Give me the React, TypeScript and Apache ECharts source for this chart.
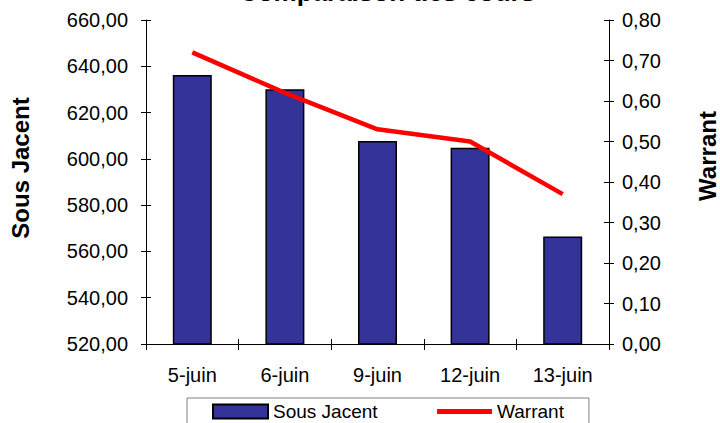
import React, { useEffect, useRef } from "react";
import * as echarts from "echarts";

const categories = ["5-juin", "6-juin", "9-juin", "12-juin", "13-juin"];
const sousJacent = [636.2, 630.1, 607.7, 604.8, 566.4];
const warrant = [0.72, 0.62, 0.53, 0.5, 0.37];

const FONT = "'Liberation Sans', Arial, sans-serif";
const fmt = (v: number) => v.toFixed(2).replace(".", ",");

export default function App() {
  const ref = useRef<HTMLDivElement>(null);
  useEffect(() => {
    if (!ref.current) return;
    const chart = echarts.init(ref.current, undefined, { renderer: "svg" });
    const grid = { left: 146, right: 111, top: 20, bottom: 79 };
    const leftBase = {
      type: "value" as const,
      min: 520,
      max: 660,
      interval: 20,
      position: "left" as const,
      splitLine: { show: false },
    };
    const rightBase = {
      type: "value" as const,
      min: 0,
      max: 0.8,
      interval: 0.1,
      position: "right" as const,
      splitLine: { show: false },
    };
    chart.setOption({
      animation: false,
      backgroundColor: "#ffffff",
      grid,
      xAxis: [
        {
          type: "category",
          data: categories,
          axisLine: { lineStyle: { color: "#000", width: 1 } },
          axisTick: { show: true, inside: false, length: 6, lineStyle: { color: "#000" } },
          axisLabel: { color: "#000", fontSize: 20, fontFamily: FONT, margin: 21 },
        },
        {
          type: "category",
          data: categories,
          position: "bottom",
          axisLine: { show: false },
          axisTick: { show: true, inside: true, length: 5, lineStyle: { color: "#000" } },
          axisLabel: { show: false },
        },
      ],
      yAxis: [
        {
          ...leftBase,
          axisLine: { show: true, lineStyle: { color: "#000", width: 1 } },
          axisTick: { show: true, inside: false, length: 5, lineStyle: { color: "#000" } },
          axisLabel: { color: "#000", fontSize: 20, fontFamily: FONT, margin: 18, formatter: fmt },
        },
        {
          ...rightBase,
          axisLine: { show: true, lineStyle: { color: "#000", width: 1 } },
          axisTick: { show: true, inside: false, length: 5, lineStyle: { color: "#000" } },
          axisLabel: { color: "#000", fontSize: 20, fontFamily: FONT, margin: 13, formatter: fmt },
        },
        {
          ...leftBase,
          axisLine: { show: false },
          axisTick: { show: true, inside: true, length: 5, lineStyle: { color: "#000" } },
          axisLabel: { show: false },
        },
        {
          ...rightBase,
          axisLine: { show: false },
          axisTick: { show: true, inside: true, length: 5, lineStyle: { color: "#000" } },
          axisLabel: { show: false },
        },
      ],
      legend: {
        left: 187,
        top: 398,
        width: 406,
        padding: [4, 25, 20, 25],
        borderColor: "#808080",
        borderWidth: 1,
        itemWidth: 55,
        itemHeight: 14,
        itemGap: 57,
        textStyle: { color: "#000", fontSize: 19, fontFamily: FONT },
        data: [
          { name: "Sous Jacent", icon: "rect" },
          {
            name: "Warrant",
            itemStyle: { opacity: 0 },
            lineStyle: { color: "#ff0000", width: 5 },
          },
        ],
      },
      graphic: [
        {
          type: "text",
          x: 387,
          y: -8,
          style: {
            text: "Comparaison des cours",
            fontSize: 26,
            fontWeight: "bold",
            fontFamily: FONT,
            fill: "#000",
            align: "center",
            verticalAlign: "middle",
          },
        },
        {
          type: "text",
          x: 20,
          y: 168,
          rotation: Math.PI / 2,
          style: {
            text: "Sous Jacent",
            fontSize: 24,
            fontWeight: "bold",
            fontFamily: FONT,
            fill: "#000",
            align: "center",
            verticalAlign: "middle",
          },
        },
        {
          type: "text",
          x: 707,
          y: 156,
          rotation: Math.PI / 2,
          style: {
            text: "Warrant",
            fontSize: 24,
            fontWeight: "bold",
            fontFamily: FONT,
            fill: "#000",
            align: "center",
            verticalAlign: "middle",
          },
        },
      ],
      series: [
        {
          name: "Sous Jacent",
          type: "bar",
          data: sousJacent,
          xAxisIndex: 0,
          yAxisIndex: 0,
          barWidth: 39,
          itemStyle: { color: "#333399", borderColor: "#000", borderWidth: 1.5 },
        },
        {
          name: "Warrant",
          type: "line",
          data: warrant,
          xAxisIndex: 0,
          yAxisIndex: 1,
          symbol: "none",
          lineStyle: { color: "#ff0000", width: 4.5 },
          itemStyle: { color: "#ff0000" },
        },
      ],
    });
    return () => chart.dispose();
  }, []);
  return <div ref={ref} style={{ width: 720, height: 423, position: "absolute", left: 0, top: 0 }} />;
}
